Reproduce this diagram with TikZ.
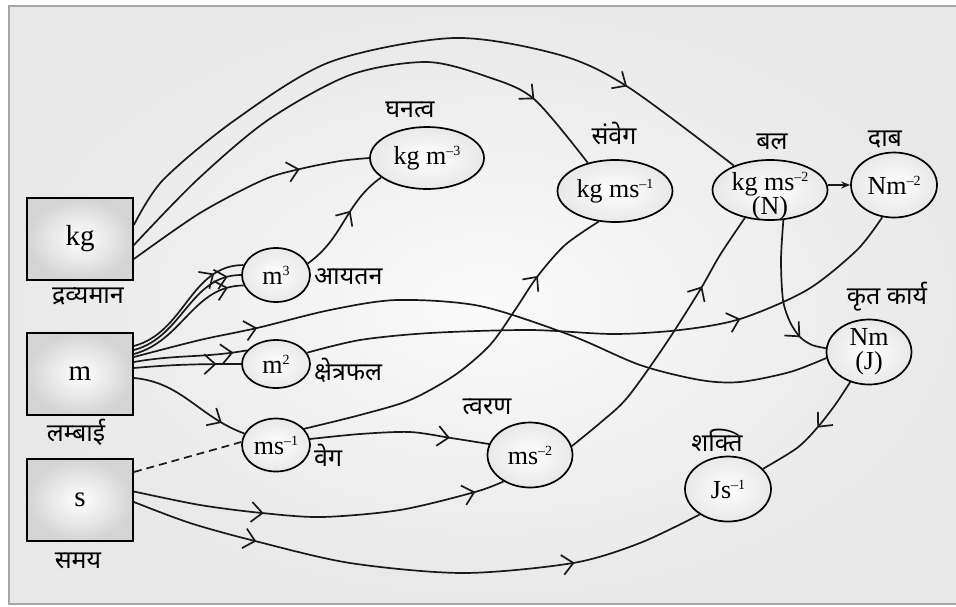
\documentclass[tikz,border=0pt]{standalone}
\usepackage{fontspec}
\setmainfont{Liberation Serif}
\newfontfamily\dev[Script=Devanagari]{Noto Sans}
\usetikzlibrary{shapes.geometric,arrows.meta,decorations.markings}
\newcommand{\sps}[1]{\raisebox{9pt}{\fontsize{14}{14}\selectfont #1}}
\tikzset{
  chev/.tip={Straight Barb[length=11pt,width=20pt]},
  mark1/.style={postaction={decorate},decoration={markings,mark=at position #1 with {\arrow{chev}}}},
  mark2/.style 2 args={postaction={decorate},decoration={markings,mark=at position #1 with {\arrow{chev}},mark=at position #2 with {\arrow{chev}}}},
  conn/.style={line width=1.7pt, black!90},
  sbox/.style={draw, line width=1.8pt, minimum width=106pt, minimum height=82pt, inner sep=0pt,
     inner color=white, outer color=black!17, font=\fontsize{29}{29}\selectfont},
  ell/.style={ellipse, draw, line width=1.7pt, inner sep=0pt, inner color=white, outer color=black!9,
     font=\fontsize{26}{26}\selectfont},
  etext/.style={font=\fontsize{26}{24}\selectfont, align=center, inner sep=0pt},
  lab/.style={font=\dev\fontsize{25}{25}\selectfont, inner sep=0pt},
}
\begin{document}
\begin{tikzpicture}[x=1pt,y=1pt]
\useasboundingbox (0,0) rectangle (956,-606);
\clip (0,0) rectangle (956,-606);
\fill[inner color=black!2, outer color=black!9] (9,-6) rectangle (965,-604);
\draw[black!35, line width=2pt] (9,-6) rectangle (965,-604);

% boxes
\node[sbox] (kg) at (80,-239) {kg};
\node[sbox] (m) at (80,-374) {m};
\node[sbox] (s) at (80,-500) {s};
\node[lab] (kgl) at (88,-297) {द्रव्यमान};
\node[lab] (ml) at (76,-432) {लम्बाई};
\node[lab] (sl) at (78,-561) {समय};

% ellipses
\node[ell, minimum width=68pt, minimum height=54pt] (vol) at (276,-275) {m\sps{3}};
\node[ell, minimum width=68pt, minimum height=48pt] (area) at (276,-364) {m\sps{2}};
\node[ell, minimum width=68pt, minimum height=53pt] (vel) at (276,-445) {ms\sps{–1}};
\node[ell, minimum width=114pt, minimum height=62pt] (dens) at (427,-158) {kg m\sps{–3}};
\node[ell, minimum width=115pt, minimum height=62pt] (mom) at (615,-191) {kg ms\sps{–1}};
\node[ell, minimum width=115pt, minimum height=60pt] (force) at (770,-190) {};
\node[etext] (forcet) at (770,-196) {kg ms\sps{–2}\\(N)};
\node[ell, minimum width=86pt, minimum height=65pt] (press) at (894,-185) {Nm\sps{–2}};
\node[ell, minimum width=85pt, minimum height=65pt] (work) at (869,-352) {};
\node[etext] (workt) at (869,-352) {Nm\\(J)};
\node[ell, minimum width=85pt, minimum height=65pt] (acc) at (530,-455) {ms\sps{–2}};
\node[ell, minimum width=86pt, minimum height=65pt] (power) at (728,-489) {Js\sps{–1}};

% labels
\node[lab] (densl) at (410,-110) {घनत्व};
\node[lab] (moml) at (614,-133) {संवेग};
\node[lab] (forcel) at (772,-142) {बल};
\node[lab] (pressl) at (885,-140) {दाब};
\node[lab] (workl) at (887,-297) {कृत कार्य};
\node[lab,anchor=west] (voll) at (314,-277) {आयतन};
\node[lab,anchor=west] (areal) at (314,-370) {क्षेत्रफल};
\node[lab,anchor=west] (vell) at (314,-455) {वेग};
\node[lab] (accl) at (487,-407) {त्वरण};
\node[lab] (powerl) at (717,-440) {शक्ति};

% connectors from kg
\draw[conn,mark1=0.81] plot[smooth] coordinates {([yshift=14pt]kg.east) (163,-180) (235,-120) (330,-62) (454,-38) (560,-55) (628,-87) (force.146)};
\draw[conn,mark1=0.85] plot[smooth] coordinates {([yshift=-6pt]kg.east) (197,-180) (268,-120) (350,-75) (427,-62) (488,-77) (534,-99) (mom.134)};
\draw[conn,mark1=0.73] plot[smooth] coordinates {([yshift=-20pt]kg.east) (200,-213) (263,-180) (300,-169) (340,-161) (dens.west)};

% from m
\draw[conn,mark1=0.78] ([yshift=28pt]m.east) to[out=15,in=180] (vol.163);
\draw[conn,mark1=0.9] ([yshift=24pt]m.east) to[out=15,in=180] (vol.180);
\draw[conn,mark1=0.88] ([yshift=20pt]m.east) to[out=15,in=180] (vol.198);
\draw[conn,mark1=0.88] ([yshift=12pt]m.east) to[out=10,in=190] (area.155);
\draw[conn,mark1=0.77] ([yshift=6pt]m.east) to[out=5,in=180] (area.west);
\draw[conn,mark1=0.177] plot[smooth] coordinates {([yshift=17pt]m.east) (200,-340) (257,-328) (330,-310) (397,-300) (480,-306) (570,-335) (640,-365) (700,-380) (740,-382) (790,-372) (work.188)};
\draw[conn,mark1=0.8] ([yshift=-4pt]m.east) to[out=-5,in=160] (vel.160);

% from s
\draw[conn,dash pattern=on 8pt off 5pt] ([yshift=28pt]s.east) -- (vel.175);
\draw[conn,mark2={0.35}{0.92}] plot[smooth] coordinates {([yshift=8.5pt]s.east) (200,-505) (262,-513) (322,-517) (400,-510) (475,-492) (acc.225)};
\draw[conn,mark2={0.22}{0.77}] plot[smooth] coordinates {([yshift=-2pt]s.east) (190,-523) (255,-541) (350,-563) (463,-573) (573,-563) (640,-543) (power.222)};

% others
\draw[conn,mark1=0.6] (vol.20) to[out=35,in=215] (dens.203);
\draw[conn,mark1=0.71] plot[smooth] coordinates {(area.20) (360,-340) (430,-333) (530,-330) (613,-334) (680,-330) (740,-319) (807,-290) (857,-250) (press.250)};
\draw[conn,mark1=0.78] plot[smooth] coordinates {(vel.30) (360,-415) (410,-400) (455,-375) (490,-345) (515,-310) (537,-277) (565,-245) (mom.242)};
\draw[conn,mark1=0.78] plot[smooth] coordinates {(vel.10) (360,-434) (410,-432) (451,-438) (acc.165)};
\draw[conn,mark1=0.72] plot[smooth] coordinates {(acc.12) (600,-423) (627,-398) (665,-345) (700,-290) (720,-255) (force.228)};
\draw[conn,-{Stealth[length=9pt,width=7pt]}] (press.west -| force.east) -- (press.west);
\draw[conn,mark1=0.81] plot[smooth] coordinates {(force.294) (781,-260) (783,-300) (790,-322) (800,-337) (812,-345) (work.175)};
\draw[conn,mark1=0.45] plot[smooth] coordinates {(work.238) (835,-405) (817,-428) (797,-448) (power.30)};
\end{tikzpicture}
\end{document}
